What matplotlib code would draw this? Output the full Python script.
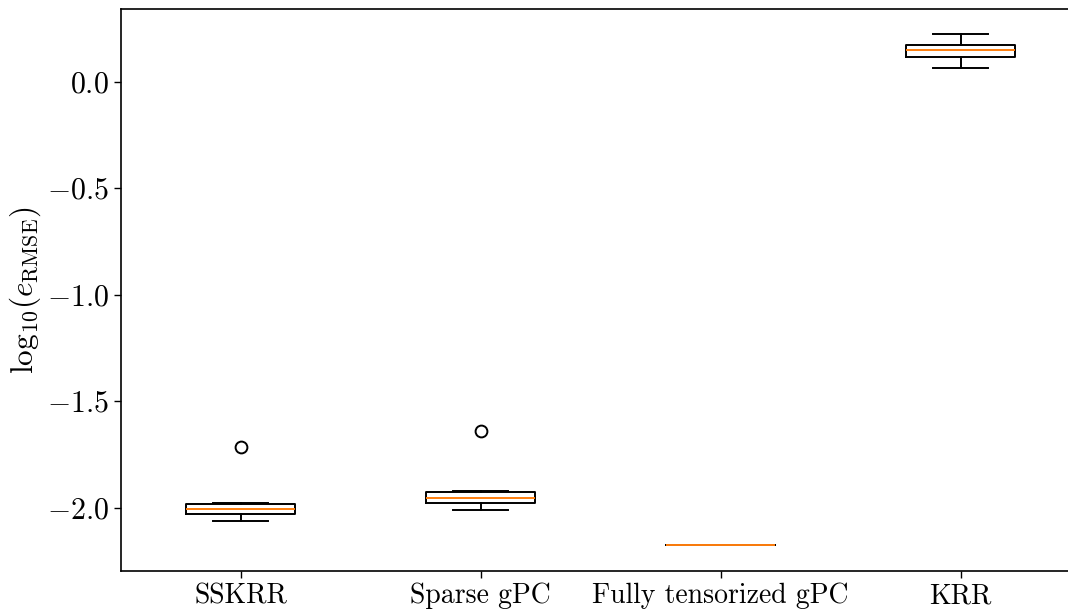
import matplotlib
matplotlib.use("Agg")
import matplotlib.pyplot as plt

plt.rcParams["font.family"] = "serif"
plt.rcParams["font.serif"] = ["cmr10"]
plt.rcParams["mathtext.fontset"] = "cm"
plt.rcParams["axes.formatter.use_mathtext"] = True
plt.rcParams["axes.unicode_minus"] = True

methods = ["SSKRR", "Sparse gPC", "Fully tensorized gPC", "KRR"]
whisker_low = [-2.065, -2.013, -2.176, 0.062]
quartile_1 = [-2.029, -1.980, -2.176, 0.115]
medians = [-2.009, -1.955, -2.176, 0.149]
quartile_3 = [-1.985, -1.929, -2.176, 0.171]
whisker_high = [-1.980, -1.924, -2.176, 0.222]
outliers = [[-1.716], [-1.641], [], []]
ytick_values = [-2.0, -1.5, -1.0, -0.5, 0.0]

stats = []
for i, name in enumerate(methods):
    stats.append({
        "label": name,
        "whislo": whisker_low[i],
        "q1": quartile_1[i],
        "med": medians[i],
        "q3": quartile_3[i],
        "whishi": whisker_high[i],
        "fliers": outliers[i],
    })

fig = plt.figure(figsize=(10.68, 6.11), dpi=100)
ax = fig.add_axes([120.7 / 1068, 40 / 611, 960 / 1068, 561.7 / 611])

lw = 1.4
ax.bxp(
    stats,
    positions=[1, 2, 3, 4],
    widths=0.455,
    boxprops=dict(color="black", linewidth=lw),
    whiskerprops=dict(color="black", linewidth=lw),
    capprops=dict(color="black", linewidth=lw),
    medianprops=dict(color="#ff7f0e", linewidth=lw),
    flierprops=dict(marker="o", markerfacecolor="none", markeredgecolor="black",
                    markersize=8.5, markeredgewidth=1.4),
)

ax.set_xlim(0.5, 4.5)
ax.set_ylim(-2.298, 0.339)
ax.set_yticks(ytick_values)
ax.set_yticklabels([r"$%.1f$" % v for v in ytick_values])
ax.tick_params(axis="x", labelsize=20, length=5, width=1)
ax.tick_params(axis="y", labelsize=21.5, length=5, width=1)
ax.set_ylabel(r"$\mathrm{log}_{10}(e_{\mathrm{RMSE}})$", fontsize=22.5, labelpad=3)
for s in ax.spines.values():
    s.set_linewidth(1.2)

fig.savefig("out.png", dpi=100)
